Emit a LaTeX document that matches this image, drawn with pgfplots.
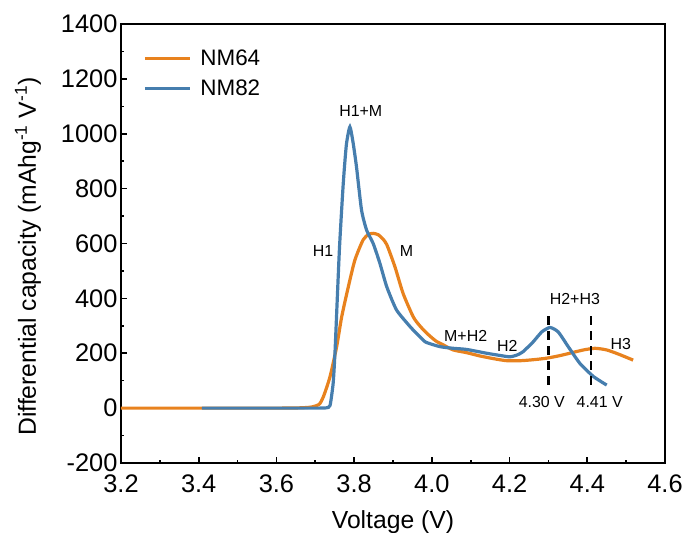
\documentclass[border=0pt]{standalone}
\usepackage{pgfplots}
\pgfplotsset{compat=1.18}
\usepackage{fontspec}
\setmainfont{Liberation Sans}
\definecolor{nmorange}{RGB}{232,130,30}
\definecolor{nmblue}{RGB}{70,126,174}
\begin{document}
\begin{tikzpicture}
\begin{axis}[
  scale only axis,
  width=544bp, height=439bp,
  xmin=3.2, xmax=4.6, ymin=-200, ymax=1400,
  xtick={3.2,3.4,...,4.61}, ytick={-200,0,...,1400},
  minor x tick num=1, minor y tick num=1,
  tick align=inside, xtick pos=bottom, ytick pos=left,
  major tick length=6bp, minor tick length=3.5bp,
  every tick/.style={black, line width=1.6bp},
  axis line style={line width=2.4bp},
  /pgf/number format/assume math mode=true,
  tick label style={font=\fontsize{25.5}{28}\selectfont},
  xticklabel style={inner ysep=0pt, yshift=-11.5bp, /pgf/number format/fixed, /pgf/number format/fixed zerofill, /pgf/number format/precision=1},
  yticklabel style={inner ysep=0pt, /pgf/number format/fixed, /pgf/number format/1000 sep={}},
  xlabel={Voltage (V)},
  ylabel={Differential capacity (mAhg\textsuperscript{-1} V\textsuperscript{-1})},
  label style={font=\fontsize{24.8}{27}\selectfont},
  xlabel style={at={(axis description cs:0.5,-0.135)}, anchor=center},
  ylabel style={at={(axis description cs:-0.171,0.47)}, anchor=center},
  legend style={draw=none, fill=none, at={(axis description cs:0.035,0.95)}, anchor=north west,
    font=\fontsize{22.5}{24}\selectfont, row sep=9bp},
  legend cell align=left,
  legend image code/.code={\draw[#1] (0bp,0bp) -- (45bp,0bp) (52bp,0bp);},
  clip=false,
]
\addplot[nmorange, line width=3.2bp, smooth, tension=0.4] coordinates {
(3.20,0) (3.40,0) (3.60,0) (3.66,1) (3.69,4) (3.71,14) (3.721,42) (3.738,115) (3.755,224) (3.768,333)
(3.785,442) (3.802,540) (3.823,613) (3.837,633) (3.849,637) (3.862,632) (3.873,618) (3.884,596)
(3.905,515) (3.926,418) (3.952,333) (3.969,300) (3.987,273) (4.010,245) (4.030,230) (4.055,212)
(4.090,202) (4.124,190) (4.160,180) (4.192,173) (4.230,173) (4.265,177) (4.295,182) (4.325,190)
(4.355,200) (4.390,212) (4.420,218) (4.450,212) (4.480,197) (4.518,175)
};
\addlegendentry{NM64}
\addplot[nmblue, line width=3.2bp, smooth, tension=0.35] coordinates {
(3.408,0) (3.60,0) (3.70,0) (3.728,1) (3.738,10) (3.746,91) (3.751,212) (3.762,576) (3.772,819)
(3.780,960) (3.789,1025) (3.797,970) (3.806,880) (3.819,722) (3.832,649) (3.849,600) (3.866,529)
(3.884,442) (3.909,358) (3.944,297) (3.969,260) (3.985,240) (4.021,224) (4.055,218) (4.089,214)
(4.141,200) (4.175,192) (4.201,187) (4.220,194) (4.235,206) (4.261,242) (4.283,278) (4.304,294)
(4.325,278) (4.351,224) (4.381,163) (4.416,115) (4.450,84)
};
\addlegendentry{NM82}
\addplot[black, line width=2.2bp, dash pattern=on 9bp off 6bp, forget plot] coordinates {(4.30,335) (4.30,73)};
\addplot[black, line width=2.2bp, dash pattern=on 9bp off 6bp, forget plot] coordinates {(4.41,335) (4.41,73)};
\begin{scope}[every node/.style={font=\fontsize{16}{18}\selectfont, inner sep=0pt}]
\node at (axis cs:3.817,1082) {H1+M};
\node at (axis cs:3.720,573) {H1};
\node at (axis cs:3.935,573) {M};
\node at (axis cs:4.087,262) {M+H2};
\node at (axis cs:4.194,225) {H2};
\node at (axis cs:4.368,399) {H2+H3};
\node at (axis cs:4.486,235) {H3};
\node at (axis cs:4.283,22) {4.30 V};
\node at (axis cs:4.432,22) {4.41 V};
\end{scope}
\end{axis}
\pgfresetboundingbox
\useasboundingbox ([xshift=-121bp,yshift=-70bp]current axis.south west) rectangle ([xshift=21bp,yshift=24bp]current axis.north east);
\end{tikzpicture}
\end{document}
